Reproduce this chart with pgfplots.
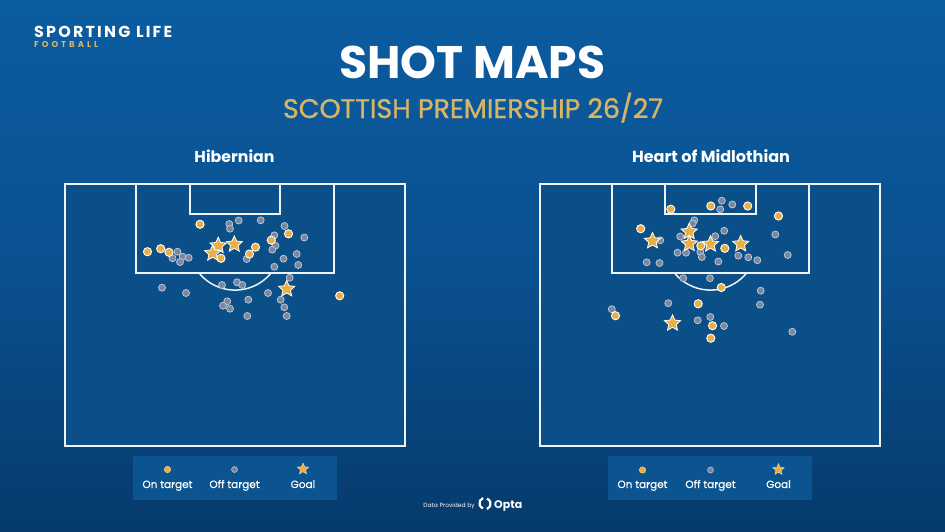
\documentclass[border=0pt]{standalone}
\usepackage{pgfplots}
\pgfplotsset{compat=1.18}
\usepackage{graphicx}
\usepackage{fontspec}
\setmainfont{Poppins}

\definecolor{bgtop}{HTML}{0B5CA0}
\definecolor{bgmid}{HTML}{0A5190}
\definecolor{bgbot}{HTML}{063A6C}
\definecolor{pitch}{HTML}{0B4F88}
\definecolor{goldtxt}{HTML}{D7B564}
\definecolor{golddot}{HTML}{E9AF47}
\definecolor{offdot}{HTML}{7A889E}
\definecolor{offline}{HTML}{C2CCDA}
\definecolor{legbox}{HTML}{0C5490}
\definecolor{pline}{HTML}{EEF3F8}

\pgfdeclareplotmark{gstar}{%
  \pgfpathmoveto{\pgfpointpolar{90}{\pgfplotmarksize}}%
  \pgfpathlineto{\pgfpointpolar{126}{0.47\pgfplotmarksize}}%
  \pgfpathlineto{\pgfpointpolar{162}{\pgfplotmarksize}}%
  \pgfpathlineto{\pgfpointpolar{198}{0.47\pgfplotmarksize}}%
  \pgfpathlineto{\pgfpointpolar{234}{\pgfplotmarksize}}%
  \pgfpathlineto{\pgfpointpolar{270}{0.47\pgfplotmarksize}}%
  \pgfpathlineto{\pgfpointpolar{306}{\pgfplotmarksize}}%
  \pgfpathlineto{\pgfpointpolar{342}{0.47\pgfplotmarksize}}%
  \pgfpathlineto{\pgfpointpolar{18}{\pgfplotmarksize}}%
  \pgfpathlineto{\pgfpointpolar{54}{0.47\pgfplotmarksize}}%
  \pgfpathclose
  \pgfusepathqfillstroke}

\pgfplotsset{
  offstyle/.style={only marks, mark=*, mark size=3.5pt,
    mark options={fill=offdot, draw=offline, line width=0.7pt}},
  onstyle/.style={only marks, mark=*, mark size=4.1pt,
    mark options={fill=golddot, draw=white, line width=0.9pt}},
  goalstyle/.style={only marks, mark=gstar, mark size=8.5pt,
    mark options={fill=golddot, draw=white, line width=0.8pt, line join=miter}},
}
\tikzset{legtxt/.style={anchor=base, inner sep=0, text=white,
  font=\fontsize{10.5}{12}\selectfont\addfontfeatures{FakeBold=0.6}}}

\begin{document}
\begin{tikzpicture}
\begin{axis}[
  scale only axis, width=945pt, height=532pt,
  xmin=0, xmax=945, ymin=0, ymax=532, y dir=reverse,
  hide axis, clip=false]

% background
\shade[top color=bgtop, bottom color=bgbot, middle color=bgmid]
  (axis cs:0,0) rectangle (axis cs:945,532);

% pitches
\fill[pitch] (axis cs:65,184) rectangle (axis cs:405,446);
\fill[pitch] (axis cs:540,184) rectangle (axis cs:880,446);
\begin{scope}[draw=pline, line width=1.5pt]
\draw (axis cs:65,184) rectangle (axis cs:405,446);
\draw (axis cs:136,184) rectangle (axis cs:334,273);
\draw (axis cs:190,184) rectangle (axis cs:280,214);
\draw (axis cs:199,273) arc[start angle=219.3, end angle=320.7, radius=46.6pt];
\draw (axis cs:540,184) rectangle (axis cs:880,446);
\draw (axis cs:612,184) rectangle (axis cs:809,273);
\draw (axis cs:665,184) rectangle (axis cs:756,214);
\draw (axis cs:674.5,273) arc[start angle=219.3, end angle=320.7, radius=46.6pt];
\end{scope}

% legend boxes
\fill[legbox] (axis cs:133,456) rectangle (axis cs:337,500);
\fill[legbox] (axis cs:608,456) rectangle (axis cs:812,500);

% ---- Hibernian ----
\addplot[offstyle] coordinates {
(229.3,224) (238.7,220.5) (230,228.7) (260.7,220.3) (284.5,226) (274.3,235.3)
(275.5,245.7) (272.3,249.7) (304.3,237.5) (296.7,254) (283.5,258.7) (298.3,265)
(274.3,266.8) (246.7,259) (177.5,251.7) (172.5,258.2) (182.7,256.7) (188.7,257.8)
(180,262) (289.7,277.7) (162,287.7) (186,293) (222,285) (237,282.3) (242.3,285)
(268,293) (280.7,299.7) (284.3,307.3) (286.7,316) (248.3,299.7) (227.3,301.3)
(223,305.7) (230,308.7) (247.3,316)
};
\addplot[onstyle] coordinates {
(200,224.3) (147.5,251.7) (160.7,248.7) (169,252.3) (221,258.3) (249.5,254)
(255.5,247.2) (271.3,240.2) (288.5,233.8) (339.7,295.8)
};
\addplot[goalstyle] coordinates {
(218.2,245.7) (212.7,253.3) (234.3,244.3) (286.7,289)
};

% ---- Heart of Midlothian ----
\addplot[offstyle] coordinates {
(721.8,200.7) (732.3,204.5) (720.2,209.3) (694.3,220.3) (692.7,223.5) (724.2,230.8)
(715.3,236.2) (680.2,236.5) (660.2,240.3) (700.3,252) (677.5,252.7) (686,252.7)
(701.8,257) (718.3,261.5) (738.3,255.7) (748.3,257.3) (757.3,260.2) (775.3,234.5)
(787.7,255) (646.7,262.3) (659.5,263) (683.2,278.2) (710,278.2) (760.7,290.7)
(760,304.7) (668.3,303.2) (611.8,309.2) (710.3,317) (697.7,320.3) (724,326)
(792.3,331.8)
};
\addplot[onstyle] coordinates {
(670.8,209.2) (710.8,206) (747.7,206) (778.5,216) (640.7,228.7) (700.8,245.8)
(724.8,248.3) (721.3,287.5) (698.2,303.8) (615.5,315.7) (712.5,325.7) (710.8,338.2)
};
\addplot[goalstyle] coordinates {
(652.5,241) (689.2,231.7) (689.3,243.7) (710.5,244.2) (740.7,244) (672.5,323.3)
};

% ---- legend markers ----
\addplot[only marks, mark=*, mark size=3.2pt,
  mark options={fill=golddot, draw=golddot!60!white, line width=0.5pt}]
  coordinates {(167.5,469.5) (642.5,470)};
\addplot[only marks, mark=*, mark size=3pt,
  mark options={fill=offdot, draw=offline, line width=0.5pt}]
  coordinates {(234.5,469.5) (710.5,470)};
\addplot[only marks, mark=gstar, mark size=6pt,
  mark options={fill=golddot, draw=golddot!50!white, line width=0.4pt}]
  coordinates {(303,469) (778.5,469.5)};

% ---- texts ----
\node[anchor=base west, inner sep=0, text=white] at (axis cs:34,38)
  {\resizebox{138pt}{!}{\addfontfeatures{LetterSpace=14}\bfseries SPORTING LIFE}};
\node[anchor=base west, inner sep=0, text=goldtxt] at (axis cs:34,48)
  {\resizebox{64pt}{!}{\addfontfeatures{LetterSpace=35}\bfseries FOOTBALL}};

\node[anchor=base, inner sep=0, text=white] at (axis cs:472.5,79)
  {\resizebox{266pt}{!}{\bfseries SHOT MAPS}};
\node[anchor=base, inner sep=0, text=goldtxt] at (axis cs:473,118)
  {\resizebox{380pt}{!}{\addfontfeatures{FakeBold=1}SCOTTISH PREMIERSHIP 26/27}};

\node[anchor=base, inner sep=0, text=white] at (axis cs:234.5,162)
  {\resizebox{80pt}{!}{\bfseries Hibernian}};
\node[anchor=base, inner sep=0, text=white] at (axis cs:711,162)
  {\resizebox{158pt}{!}{\bfseries Heart of Midlothian}};

\node[legtxt] at (axis cs:167.5,488) {On target};
\node[legtxt] at (axis cs:234.5,488) {Off target};
\node[legtxt] at (axis cs:303,488) {Goal};
\node[legtxt] at (axis cs:642.5,488) {On target};
\node[legtxt] at (axis cs:710.5,488) {Off target};
\node[legtxt] at (axis cs:778.5,488) {Goal};

% Opta credit
\node[anchor=base east, inner sep=0, text=white, font=\fontsize{6}{7}\selectfont]
  at (axis cs:475,507) {Data Provided by};
\draw[white, line width=2.2pt] (axis cs:483,498) arc[start angle=110, end angle=250, radius=5.5pt];
\draw[white, line width=2.2pt] (axis cs:487,509) arc[start angle=-70, end angle=70, radius=5.5pt];
\node[anchor=base west, inner sep=0, text=white, font=\bfseries\fontsize{11}{12}\selectfont]
  at (axis cs:494,508) {Opta};
\end{axis}
\end{tikzpicture}
\end{document}
